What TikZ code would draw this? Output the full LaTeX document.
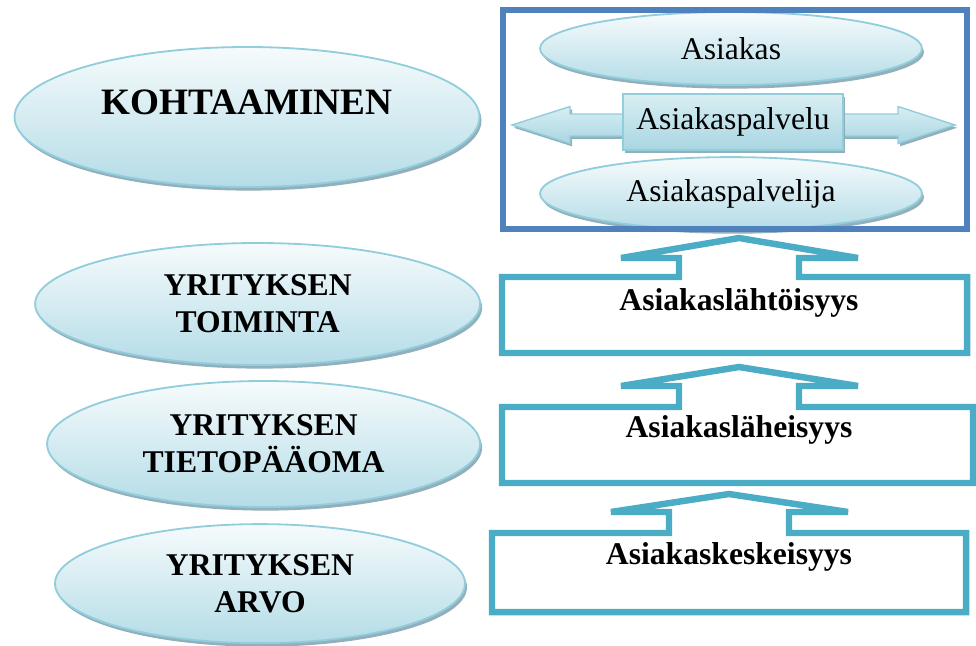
\documentclass[tikz,border=0pt]{standalone}
\usepackage{fontspec}
\setmainfont{Liberation Serif}
\usetikzlibrary{positioning, shadows, shapes.geometric}

\definecolor{ellborder}{HTML}{92CDDC}
\definecolor{elltop}{HTML}{F6FBFC}
\definecolor{ellbottom}{HTML}{B4DCE7}
\definecolor{ellshadow}{HTML}{86A6B5}
\definecolor{framec}{HTML}{4F81BD}
\definecolor{stepc}{HTML}{4BACC6}
\definecolor{bartop}{HTML}{D8EEF3}
\definecolor{barbottom}{HTML}{A9D6E2}

\begin{document}
\begin{tikzpicture}[bubble/.style={ellipse, draw=ellborder, line width=1.3pt, top color=elltop, bottom color=ellbottom, drop shadow={shadow xshift=0.05cm, shadow yshift=-0.09cm, fill=ellshadow, opacity=0.9}, inner sep=0pt},
    level/.style={font=\fontsize{22.5}{26.5}\selectfont\bfseries, align=center},
    plain/.style={font=\fontsize{22.5}{26.5}\selectfont},
    stepline/.style={draw=stepc, line width=4.6pt, line join=miter}]

\useasboundingbox (0,0) rectangle (24.4,-16.125);

\node[bubble, minimum width=11.625cm, minimum height=3.5cm] at (6.175,-2.925) (kohta) {};
\node[level, font=\fontsize{26.5}{30}\selectfont\bfseries] at (6.175,-2.55) (kohtaT) {KOHTAAMINEN};
\node[bubble, level, minimum width=11.125cm, minimum height=3.05cm] at (6.44,-7.6) (toim) {YRITYKSEN\\TOIMINTA};
\node[bubble, level, minimum width=10.825cm, minimum height=3.15cm] at (6.59,-11.1) (tieto) {YRITYKSEN\\TIETOPÄÄOMA};
\node[bubble, level, minimum width=10.25cm, minimum height=2.975cm] at (6.5,-14.59) (arvo) {YRITYKSEN\\ARVO};

\node[bubble, plain, minimum width=9.55cm, minimum height=1.825cm] at (18.275,-1.2125) (asiakas) {Asiakas};
\node[bubble, plain, minimum width=9.55cm, minimum height=1.825cm] at (18.275,-4.84) (palvelija) {Asiakaspalvelija};

\draw[draw=ellborder, line width=1pt, top color=bartop, bottom color=barbottom, drop shadow={shadow xshift=0.05cm, shadow yshift=-0.07cm, fill=ellshadow, opacity=0.9}]
  (12.8,-3.125) -- (14.25,-2.6625) -- (14.25,-2.85) -- (22.45,-2.85) -- (22.45,-2.6625) -- (23.875,-3.125)
  -- (22.45,-3.5875) -- (22.45,-3.4) -- (14.25,-3.4) -- (14.25,-3.5875) -- cycle;
\node[draw=ellborder, line width=1pt, top color=bartop, bottom color=barbottom, drop shadow={shadow xshift=0.05cm, shadow yshift=-0.07cm, fill=ellshadow, opacity=0.9}, plain, minimum width=5.5cm, minimum height=1.4cm] at (18.325,-3.05) (palvelu) {Asiakaspalvelu};

\node[draw=framec, line width=4.7pt, minimum width=11.6cm, minimum height=5.475cm, inner sep=0pt] at (18.375,-2.9875) (ydin) {};

\draw[stepline] (12.55,-6.925) -- (16.975,-6.925) -- (16.975,-6.45) -- (15.525,-6.45) -- (18.475,-5.95) -- (21.45,-6.45)
  -- (19.975,-6.45) -- (19.975,-6.925) -- (24.175,-6.925) -- (24.175,-8.825) -- (12.55,-8.825) -- cycle;
\draw[stepline] (12.55,-10.175) -- (16.975,-10.175) -- (16.975,-9.65) -- (15.525,-9.65) -- (18.475,-9.175) -- (21.45,-9.65)
  -- (19.975,-9.65) -- (19.975,-10.175) -- (24.325,-10.175) -- (24.325,-12.075) -- (12.55,-12.075) -- cycle;
\draw[stepline] (12.3,-13.325) -- (16.725,-13.325) -- (16.725,-12.8) -- (15.275,-12.8) -- (18.225,-12.35) -- (21.2,-12.8)
  -- (19.725,-12.8) -- (19.725,-13.325) -- (24.15,-13.325) -- (24.15,-15.3) -- (12.3,-15.3) -- cycle;

\node[level] at (18.475,-7.575) (lahto) {Asiakaslähtöisyys};
\node[level] at (18.475,-10.75) (lahei) {Asiakasläheisyys};
\node[level] at (18.225,-13.925) (kesk) {Asiakaskeskeisyys};

\end{tikzpicture}
\end{document}
